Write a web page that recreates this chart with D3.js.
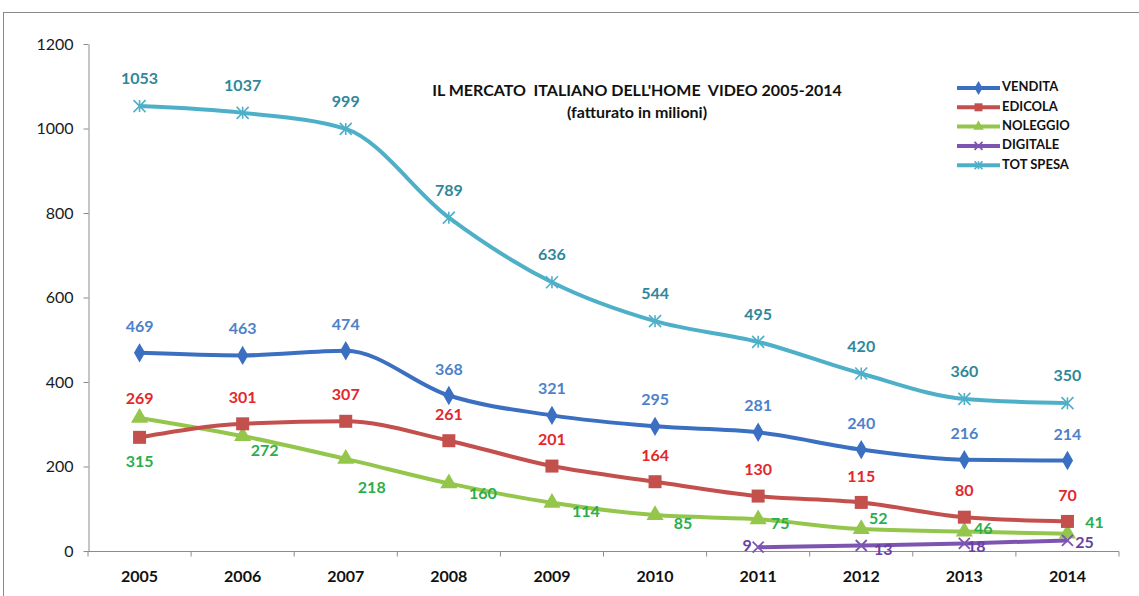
<!DOCTYPE html>
<html>
<head>
<meta charset="utf-8">
<script src="https://cdn.jsdelivr.net/npm/d3@7"></script>
<style>
  body { margin: 0; background: #fff; }
  svg { display: block; font-family: Lato, "Open Sans", sans-serif; }
  .axis path, .axis line { stroke: #8c8c8c; }
  .lbl { font-size: 16px; font-weight: 700; text-anchor: middle; dominant-baseline: middle; }
</style>
</head>
<body>
<svg id="chart" width="1139" height="596"></svg>
<script>

const years = ["2005", "2006", "2007", "2008", "2009", "2010", "2011", "2012", "2013", "2014"];
const yTicks = [0, 200, 400, 600, 800, 1000, 1200];

const vendita  = [469, 463, 474, 368, 321, 295, 281, 240, 216, 214];
const edicola  = [269, 301, 307, 261, 201, 164, 130, 115, 80, 70];
const noleggio = [315, 272, 218, 160, 114, 85, 75, 52, 46, 41];
const digitale = [null, null, null, null, null, null, 9, 13, 18, 25];
const totSpesa = [1053, 1037, 999, 789, 636, 544, 495, 420, 360, 350];

const titleLines = ["IL MERCATO  ITALIANO DELL'HOME  VIDEO 2005-2014", "(fatturato in milioni)"];

// label nudges (layout only), [dx, dy] from the point
const labelNudge = {
    "VENDITA":  years.map(() => [0, -25]),
    "EDICOLA":  years.map((d, i) => i === 0 ? [0, -37] : [0, -25]),
    "NOLEGGIO": [[0, 45], [22, 16], [26, 30], [34, 11], [34, 10], [28, 10], [22, 6], [17, -9], [19, -2], [27, -10]],
    "DIGITALE": [null, null, null, null, null, null, [-11, 0], [22, 5], [12, 4], [17, 3]],
    "TOT SPESA": years.map(() => [0, -26])
};

const series = [
    { name: "VENDITA",   values: vendita,  line: "#3b6fc2", text: "#4d82cb", marker: "diamond" },
    { name: "EDICOLA",   values: edicola,  line: "#c3504d", text: "#e3282b", marker: "square" },
    { name: "NOLEGGIO",  values: noleggio, line: "#94c64c", text: "#2bae4c", marker: "triangle" },
    { name: "DIGITALE",  values: digitale, line: "#7d55b0", text: "#6a3fa2", marker: "x" },
    { name: "TOT SPESA", values: totSpesa, line: "#4eb0c8", text: "#2f8799", marker: "star" }
];

const svg = d3.select("#chart");

// outer frame
svg.append("rect")
    .attr("x", 3.5).attr("y", 12.5)
    .attr("width", 1145).attr("height", 600)
    .attr("fill", "none").attr("stroke", "#8a8a8a");

const x = d3.scaleBand().domain(years).range([88, 1119]);
const y = d3.scaleLinear().domain([0, 1200]).range([551, 44]);
const cx = d => x(d) + x.bandwidth() / 2;

// y axis
const yAxis = svg.append("g")
    .attr("class", "axis")
    .attr("transform", "translate(88.5,0)")
    .call(d3.axisLeft(y).tickValues(yTicks).tickFormat(d3.format("d"))
        .tickSize(5).tickPadding(10).tickSizeOuter(0));
yAxis.selectAll("text").attr("font-size", 16).attr("fill", "#1a1a1a")
    .attr("font-family", "Lato, sans-serif");

// x axis with ticks between categories
const xAxis = svg.append("g")
    .attr("class", "axis")
    .attr("transform", "translate(0,551.5)");
xAxis.append("line").attr("x1", 88).attr("x2", 1119);
xAxis.selectAll(".tk")
    .data(years.concat(["end"]))
    .join("line")
    .attr("x1", (d, i) => 88 + i * x.step())
    .attr("x2", (d, i) => 88 + i * x.step())
    .attr("y1", 0).attr("y2", 5);
xAxis.selectAll("text")
    .data(years)
    .join("text")
    .attr("x", d => cx(d))
    .attr("y", 26)
    .attr("text-anchor", "middle")
    .attr("dominant-baseline", "middle")
    .attr("font-size", 16).attr("font-weight", 700).attr("fill", "#111")
    .text(d => d);

// title
svg.append("g").selectAll("text")
    .data(titleLines)
    .join("text")
    .attr("x", (d, i) => i === 0 ? 637 : 637)
    .attr("y", (d, i) => 92 + i * 22)
    .attr("text-anchor", "middle")
    .attr("dominant-baseline", "middle")
    .attr("font-size", 16).attr("font-weight", 700).attr("fill", "#111")
    .style("white-space", "pre")
    .text(d => d);

function drawMarker(g, type, color, size) {
    const s = size;
    if (type === "diamond") {
        g.append("path").attr("d", d3.symbol(d3.symbolDiamond, s * s * 0.9)()).attr("fill", color);
    } else if (type === "square") {
        g.append("rect").attr("x", -s / 2).attr("y", -s / 2).attr("width", s).attr("height", s).attr("fill", color);
    } else if (type === "triangle") {
        g.append("path").attr("d", d3.symbol(d3.symbolTriangle, s * s * 0.75)()).attr("fill", color);
    } else if (type === "x") {
        const h = s / 2;
        g.append("path").attr("d", `M${-h},${-h}L${h},${h}M${-h},${h}L${h},${-h}`)
            .attr("stroke", color).attr("stroke-width", 1.8).attr("fill", "none");
    } else if (type === "star") {
        const h = s / 2;
        g.append("path").attr("d", `M${-h},${-h}L${h},${h}M${-h},${h}L${h},${-h}M0,${-h}L0,${h}`)
            .attr("stroke", color).attr("stroke-width", 1.6).attr("fill", "none");
    }
}

const markerSize = { diamond: 11, square: 13, triangle: 13, x: 11, star: 12 };

const line = d3.line()
    .defined(d => d.v != null)
    .x(d => cx(d.year))
    .y(d => y(d.v))
    .curve(d3.curveMonotoneX);

// draw from back to front as in the reference
const order = ["TOT SPESA", "NOLEGGIO", "EDICOLA", "VENDITA", "DIGITALE"];
order.forEach(name => {
    const s = series.find(d => d.name === name);
    const pts = years.map((yr, i) => ({ year: yr, v: s.values[i], i }));
    const g = svg.append("g");
    g.append("path")
        .datum(pts)
        .attr("d", line)
        .attr("fill", "none")
        .attr("stroke", s.line)
        .attr("stroke-width", 4)
        .attr("stroke-linejoin", "round");
    pts.filter(d => d.v != null).forEach(d => {
        const m = g.append("g").attr("transform", `translate(${cx(d.year)},${y(d.v)})`);
        drawMarker(m, s.marker, s.line, markerSize[s.marker]);
    });
});

// data labels on top
series.forEach(s => {
    const pts = years.map((yr, i) => ({ year: yr, v: s.values[i], i })).filter(d => d.v != null);
    svg.append("g").selectAll("text")
        .data(pts)
        .join("text")
        .attr("class", "lbl")
        .attr("fill", s.text)
        .attr("x", d => cx(d.year) + labelNudge[s.name][d.i][0])
        .attr("y", d => y(d.v) + labelNudge[s.name][d.i][1])
        .text(d => d.v);
});

// legend
const legend = svg.append("g").attr("transform", "translate(957,88)");
series.forEach((s, i) => {
    const row = legend.append("g").attr("transform", `translate(0,${i * 19.3})`);
    row.append("line").attr("x1", 0).attr("x2", 43)
        .attr("stroke", s.line).attr("stroke-width", 4);
    const m = row.append("g").attr("transform", "translate(21.5,0)");
    drawMarker(m, s.marker, s.line, 8);
    row.append("text")
        .attr("x", 45).attr("y", 0)
        .attr("dominant-baseline", "middle")
        .attr("font-size", 13).attr("font-weight", 700).attr("fill", "#111")
        .text(s.name);
});

</script>
</body>
</html>
